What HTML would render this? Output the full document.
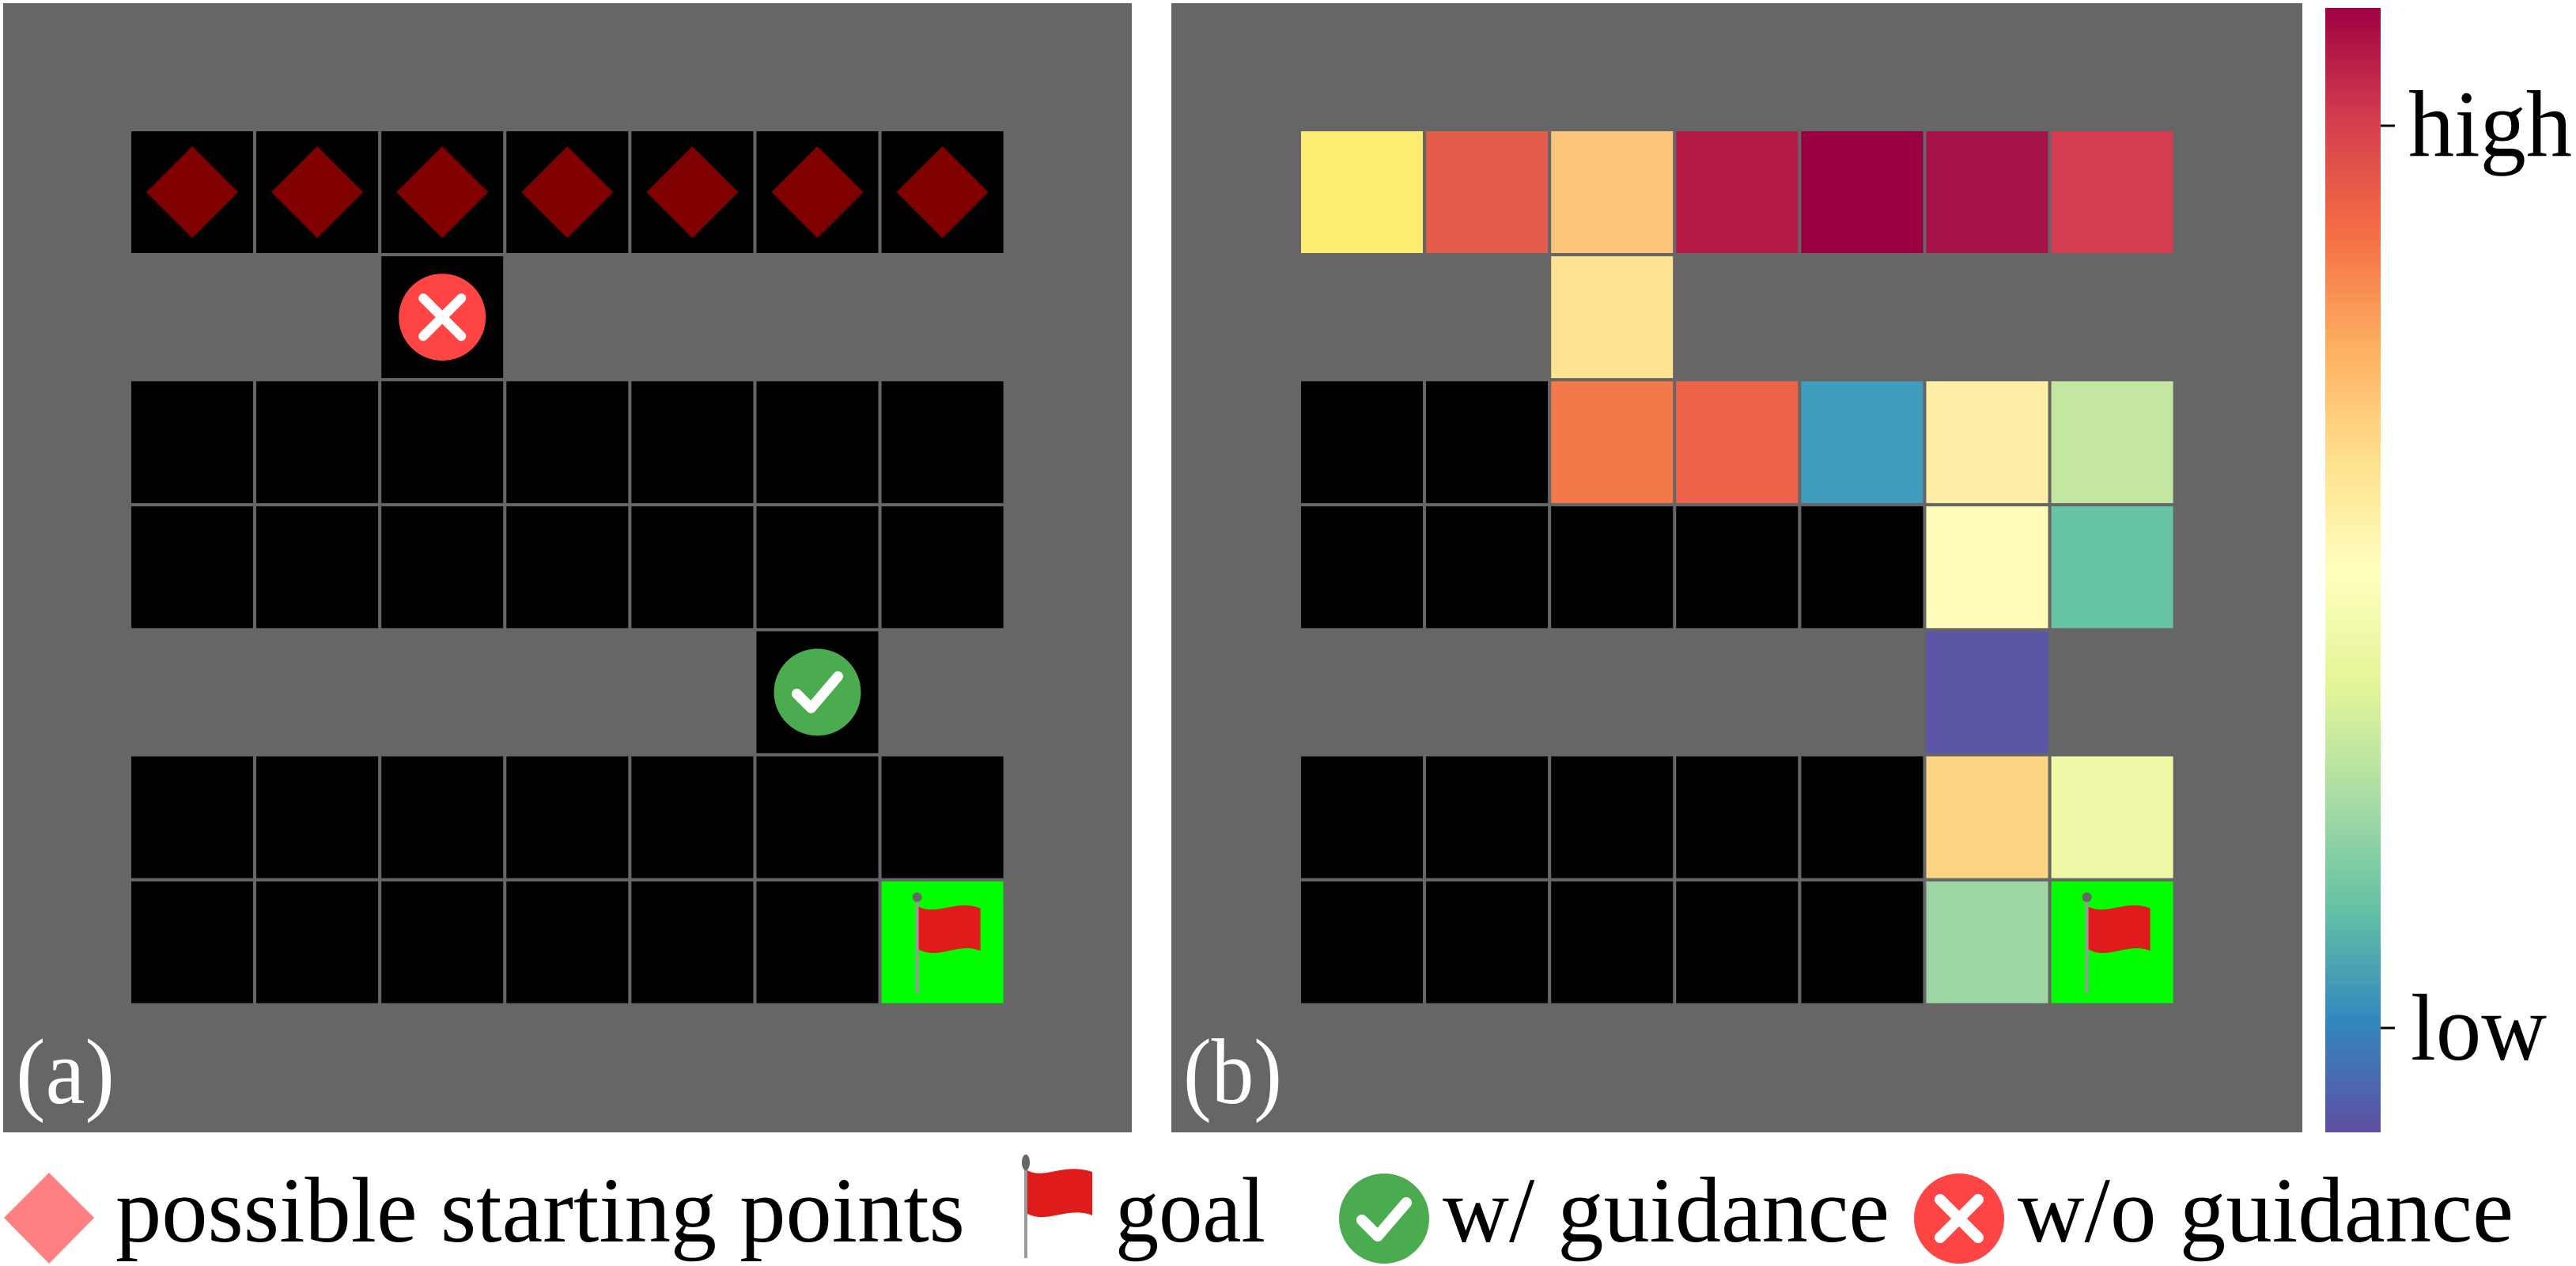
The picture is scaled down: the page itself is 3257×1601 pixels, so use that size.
<!DOCTYPE html>
<html><head><meta charset="utf-8"><style>
html,body{margin:0;padding:0;background:#fff;}
svg{display:block;}
svg text{font-family:"Liberation Serif","Times New Roman","DejaVu Serif",serif !important;}
</style></head><body>
<svg id="fig" width="3257" height="1601" viewBox="0 0 3257 1601" xmlns="http://www.w3.org/2000/svg" font-family="Liberation Serif, DejaVu Serif, serif">
<defs>
<linearGradient id="spec" x1="0" y1="0" x2="0" y2="1">
<stop offset="0" stop-color="#9e0142"/><stop offset="0.1" stop-color="#d53e4f"/><stop offset="0.2" stop-color="#f46d43"/><stop offset="0.3" stop-color="#fdae61"/><stop offset="0.4" stop-color="#fee08b"/><stop offset="0.5" stop-color="#ffffbf"/><stop offset="0.6" stop-color="#e6f598"/><stop offset="0.7" stop-color="#abdda4"/><stop offset="0.8" stop-color="#66c2a5"/><stop offset="0.9" stop-color="#3288bd"/><stop offset="1" stop-color="#5e4fa2"/>
</linearGradient>
</defs>
<rect x="4" y="4" width="1427" height="1428" fill="#666"/>
<rect x="1481" y="4" width="1430" height="1428" fill="#666"/>
<g id="ga"></g>
<g id="gb"></g>
<text x="20" y="1395" font-size="118" fill="#fff" textLength="125" lengthAdjust="spacingAndGlyphs">(a)</text>
<text x="1496" y="1395" font-size="118" fill="#fff" textLength="125" lengthAdjust="spacingAndGlyphs">(b)</text>
<rect x="2940" y="10" width="70" height="1422" fill="url(#spec)"/>
<line x1="3010" y1="159" x2="3028" y2="159" stroke="#000" stroke-width="3"/>
<line x1="3010" y1="1300" x2="3028" y2="1300" stroke="#000" stroke-width="3"/>
<text x="3045" y="197" font-size="120" textLength="207" lengthAdjust="spacingAndGlyphs">high</text>
<text x="3048" y="1340" font-size="120" textLength="172" lengthAdjust="spacingAndGlyphs">low</text>
<g>
<polygon points="62,1483 119,1540 62,1598 5,1540" fill="#ff8080"/>
<text x="146" y="1570" font-size="118" textLength="1074" lengthAdjust="spacingAndGlyphs">possible starting points</text>
<g>
<line x1="1297" y1="1475" x2="1297" y2="1591" stroke="#999" stroke-width="4"/>
<ellipse cx="1297" cy="1470" rx="5" ry="10" fill="#666"/>
<path d="M1299,1480 C1320,1492 1345,1470 1381,1482 L1381,1537 C1350,1525 1325,1548 1299,1535 Z" fill="#e01b1b"/>
</g>
<text x="1410" y="1570" font-size="118" textLength="190" lengthAdjust="spacingAndGlyphs">goal</text>
<g>
<circle cx="1750" cy="1541" r="57" fill="#4aab4f"/>
<path d="M1722,1543 L1742,1563 L1778,1521" fill="none" stroke="#fff" stroke-width="14" stroke-linecap="round" stroke-linejoin="round"/>
</g>
<text x="1824" y="1570" font-size="118" textLength="565" lengthAdjust="spacingAndGlyphs">w/ guidance</text>
<g>
<circle cx="2477" cy="1541" r="57" fill="#ff4444"/>
<path d="M2453,1517 L2501,1565 M2501,1517 L2453,1565" stroke="#fff" stroke-width="14" stroke-linecap="round"/>
</g>
<text x="2551" y="1570" font-size="118" textLength="627" lengthAdjust="spacingAndGlyphs">w/o guidance</text>
</g>
</svg>
<script>
// Panel (a): 0 = empty, 1 = black cell, 2 = start (diamond), 3 = fail marker, 4 = success marker, 5 = goal
const layoutA = [
 [2,2,2,2,2,2,2],
 [0,0,3,0,0,0,0],
 [1,1,1,1,1,1,1],
 [1,1,1,1,1,1,1],
 [0,0,0,0,0,4,0],
 [1,1,1,1,1,1,1],
 [1,1,1,1,1,1,5]
];
// Panel (b): null = empty, 'k' = black, 'g' = goal, else colour value
const heatRow0 = ['#fdec70','#e45c4a','#fdc57a','#b31b46','#9a0040','#a8124a','#d43d51'];
const heatRow1 = [null,null,'#fde392',null,null,null,null];
const heatRow2 = ['k','k','#f4794a','#ec6349','#3f9dbd','#ffefa6','#c3e6a0'];
const heatRow3 = ['k','k','k','k','k','#fffbb9','#68c4a6'];
const heatRow4 = [null,null,null,null,null,'#5b56a6',null];
const heatRow5 = ['k','k','k','k','k','#fed585','#f1f8a8'];
const heatRow6 = ['k','k','k','k','k','#9dd6a4','g'];
const heatRows = [heatRow0,heatRow1,heatRow2,heatRow3,heatRow4,heatRow5,heatRow6];

const NS='http://www.w3.org/2000/svg';
const pitch=158.1, inner=154;
function mk(tag,attrs,parent){const e=document.createElementNS(NS,tag);for(const k in attrs)e.setAttribute(k,attrs[k]);parent.appendChild(e);return e;}
function xA(c){return 166+c*pitch;} function yA(r){return 166+r*pitch;}
function xB(c){return 1645+c*pitch;}
function flag(x,y,g){
  mk('rect',{x:x,y:y,width:inner,height:inner,fill:'#00ff00'},g);
  mk('line',{x1:x+45,y1:y+22,x2:x+45,y2:y+142,stroke:'#999','stroke-width':4},g);
  mk('circle',{cx:x+45,cy:y+20,r:6,fill:'#666'},g);
  mk('path',{d:`M${x+47},${y+32} C${x+70},${y+44} ${x+95},${y+22} ${x+125},${y+34} L${x+125},${y+88} C${x+98},${y+76} ${x+72},${y+100} ${x+47},${y+86} Z`,fill:'#e01b1b'},g);
}
const ga=document.getElementById('ga');
layoutA.forEach((row,r)=>row.forEach((v,c)=>{
  if(v===0)return;
  const x=xA(c),y=yA(r);
  const g=mk('g',{},ga);
  
  
  if(v===5){flag(x,y,g);return;}
  mk('rect',{x:x,y:y,width:inner,height:inner,fill:'#000'},g);
  const cx=x+inner/2, cy=y+inner/2;
  if(v===2) mk('polygon',{points:`${cx},${cy-58} ${cx+58},${cy} ${cx},${cy+58} ${cx-58},${cy}`,fill:'#800000'},g);
  if(v===3){mk('circle',{cx:cx,cy:cy,r:55,fill:'#ff4444'},g);mk('path',{d:`M${cx-24},${cy-24} L${cx+24},${cy+24} M${cx+24},${cy-24} L${cx-24},${cy+24}`,stroke:'#fff','stroke-width':12,'stroke-linecap':'round'},g);}
  if(v===4){mk('circle',{cx:cx,cy:cy,r:55,fill:'#4aab4f'},g);mk('path',{d:`M${cx-26},${cy+2} L${cx-8},${cy+20} L${cx+26},${cy-20}`,fill:'none',stroke:'#fff','stroke-width':13,'stroke-linecap':'round','stroke-linejoin':'round'},g);}
}));
const gb=document.getElementById('gb');
heatRows.forEach((row,r)=>row.forEach((v,c)=>{
  if(v===null)return;
  const x=xB(c),y=yA(r);
  const g=mk('g',{},gb);
  
  
  if(v==='g'){flag(x,y,g);return;}
  mk('rect',{x:x,y:y,width:inner,height:inner,fill:v==='k'?'#000':v},g);
}));
</script>
</body></html>
